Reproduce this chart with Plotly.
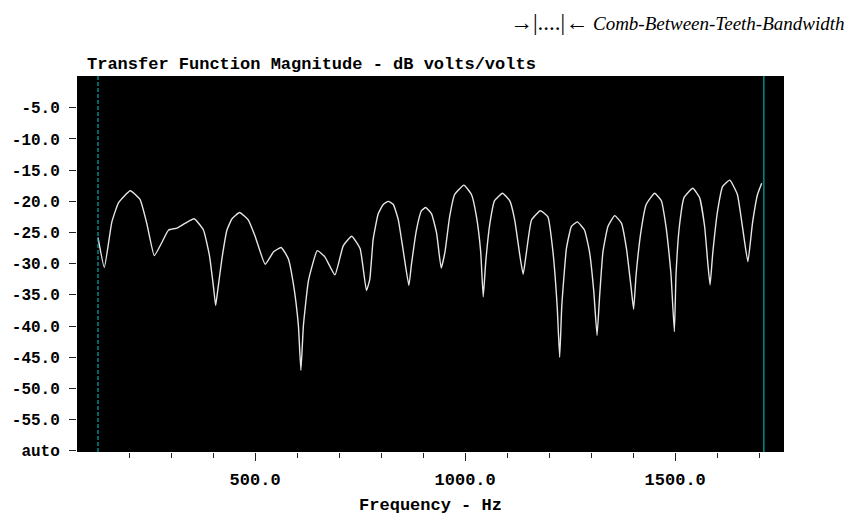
import plotly.graph_objects as go

# ---- data ----
freq_hz = [126, 141, 159, 175, 203, 226, 242, 260, 278, 294, 314, 334, 355, 377, 391, 401, 406, 410,
           421, 433, 445, 463, 484, 500, 524, 544, 562, 579, 591, 603, 609, 615, 627, 648, 666, 690,
           710, 730, 750, 765, 773, 781, 793, 805, 817, 829, 841, 853, 866, 872, 884, 896, 906, 920,
           932, 943, 952, 963, 975, 997, 1015, 1027, 1037, 1043, 1049, 1059, 1070, 1089, 1106, 1118,
           1130, 1138, 1146, 1158, 1179, 1197, 1209, 1219, 1225, 1230, 1241, 1253, 1267, 1284, 1296,
           1306, 1314, 1320, 1328, 1340, 1356, 1372, 1384, 1395, 1401, 1407, 1419, 1431, 1451, 1467,
           1478, 1485, 1490, 1498, 1502, 1510, 1521, 1542, 1558, 1570, 1578, 1583, 1589, 1601, 1613,
           1630, 1648, 1660, 1673, 1684, 1696, 1706]
mag_db = [-25.8, -30.6, -23.3, -20.2, -18.3, -19.7, -23.5, -28.7, -26.6, -24.6, -24.3, -23.5, -22.8,
          -24.6, -28.6, -33.8, -36.7, -34.8, -29.2, -24.6, -22.8, -21.8, -23.0, -25.6, -30.1, -28.1,
          -27.4, -29.2, -33.2, -39.9, -47.1, -39.9, -32.7, -27.9, -28.9, -31.8, -27.1, -25.6, -27.6,
          -34.3, -32.5, -26.1, -22.0, -20.5, -20.0, -20.5, -23.0, -28.1, -33.5, -30.2, -24.6, -21.5,
          -21.0, -22.0, -25.1, -30.7, -28.1, -22.5, -18.9, -17.4, -18.9, -22.5, -28.1, -35.3, -29.7,
          -23.5, -19.9, -18.7, -19.9, -23.0, -28.6, -31.7, -28.1, -23.0, -21.5, -22.5, -28.1, -36.8,
          -45.0, -36.8, -27.6, -24.0, -23.3, -24.6, -28.1, -34.3, -41.5, -35.3, -28.1, -24.0, -22.3,
          -23.5, -27.6, -33.8, -37.3, -31.7, -24.6, -20.5, -18.7, -19.9, -24.0, -28.1, -31.7, -40.9,
          -31.7, -24.0, -19.4, -17.9, -19.4, -24.0, -30.2, -33.4, -28.6, -21.5, -17.6, -16.6, -18.9,
          -24.0, -29.7, -23.5, -18.9, -17.1]

marker_lo_hz = [126]     # dashed cyan cursor
marker_hi_hz = [1711]    # solid cyan cursor

x_major_vals = [500, 1000, 1500]
x_major_text = ["500.0", "1000.0", "1500.0"]
x_minor_vals = [200, 300, 400, 500, 600, 700, 800, 900, 1000, 1100, 1200, 1300, 1400, 1500, 1600, 1700]
y_tick_vals = [-5, -10, -15, -20, -25, -30, -35, -40, -45, -50, -55, -60]
y_tick_text = ["-5.0", "-10.0", "-15.0", "-20.0", "-25.0", "-30.0", "-35.0", "-40.0",
               "-45.0", "-50.0", "-55.0", "auto"]

title_text = "Transfer Function Magnitude - dB volts/volts"
x_title = "Frequency - Hz"
top_note = "<span style='font-size:23px'>\u2192|....|\u2190</span> <i>Comb-Between-Teeth-Bandwidth</i>"

MONO = "Liberation Mono"

fig = go.Figure()
fig.add_trace(go.Scatter(x=freq_hz, y=mag_db, mode="lines",
                         line=dict(color="#e6e6e6", width=1.4, shape="spline", smoothing=0.4),
                         hoverinfo="skip", showlegend=False))
# invisible trace on minor-tick axis so that axis is drawn
fig.add_trace(go.Scatter(x=[x_minor_vals[0]], y=[y_tick_vals[0]], xaxis="x2", mode="markers",
                         marker=dict(opacity=0), hoverinfo="skip", showlegend=False))

for v in marker_lo_hz:
    fig.add_vline(x=v, line=dict(color="#00a8a8", width=1.2, dash="4px,2px"))
for v in marker_hi_hz:
    fig.add_vline(x=v, line=dict(color="#00a0a0", width=1.3))

xr = [76, 1759]
fig.update_layout(
    width=852, height=522,
    margin=dict(l=77, r=68, t=76, b=53),
    paper_bgcolor="white", plot_bgcolor="black",
    xaxis=dict(range=xr, tickvals=x_major_vals, ticktext=x_major_text,
               ticks="outside", ticklen=8, tickwidth=1.3, tickcolor="#222",
               showgrid=False, zeroline=False, showline=False,
               tickfont=dict(family=MONO, size=17, color="black", weight="bold"),
               ticklabelstandoff=4,
               title=dict(text=x_title, standoff=8,
                          font=dict(family=MONO, size=17, color="black", weight="bold"))),
    xaxis2=dict(range=xr, overlaying="x", anchor="y", side="bottom",
                tickvals=x_minor_vals, ticks="outside", ticklen=5, tickwidth=1.3, tickcolor="#222",
                showticklabels=False, showgrid=False, zeroline=False, showline=False),
    yaxis=dict(range=[-60.2, 0.1], tickvals=y_tick_vals, ticktext=y_tick_text,
               ticks="outside", ticklen=7, tickwidth=1.3, tickcolor="#222",
               showgrid=False, zeroline=False, showline=False,
               ticklabelstandoff=6,
               tickfont=dict(family=MONO, size=16, color="black", weight="bold")),
    showlegend=False,
)

fig.add_annotation(text=title_text, xref="paper", yref="paper", x=0.011, y=1.031,
                   xanchor="left", yanchor="middle", showarrow=False,
                   font=dict(family=MONO, size=17, color="black", weight="bold"))
fig.add_annotation(text=top_note, xref="paper", yref="paper", x=1.0887, y=1.142,
                   xanchor="right", yanchor="middle", showarrow=False,
                   font=dict(family="Liberation Serif", size=19, color="black"))

fig.write_html("out.html")
